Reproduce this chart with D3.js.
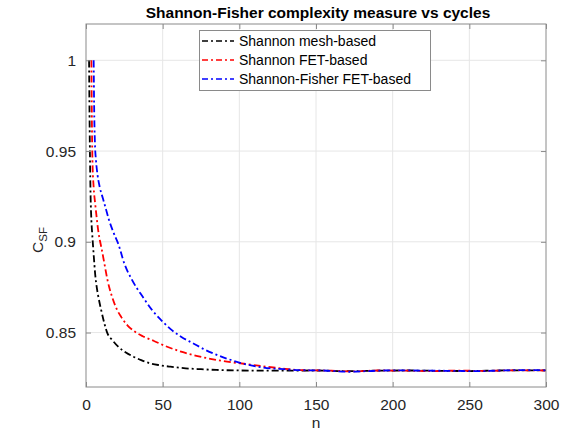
<!DOCTYPE html>
<html><head><meta charset="utf-8">
<script src="https://cdn.jsdelivr.net/npm/d3@7/dist/d3.min.js"></script>
<style>body{margin:0;background:#fff}svg{display:block}</style>
</head><body><svg id="c" width="570" height="433"></svg>
<script>
const titleText = "Shannon-Fisher complexity measure vs cycles";
const xTicks = [0, 50, 100, 150, 200, 250, 300];
const yTicks = [0.85, 0.9, 0.95, 1];
const yTickLabels = ["0.85", "0.9", "0.95", "1"];
const seriesNames = ["Shannon mesh-based", "Shannon FET-based", "Shannon-Fisher FET-based"];
const seriesColors = ["#000000", "#ff0000", "#0000ff"];

const meshN = [2, 2.3, 2.7, 3, 3.5, 4, 5, 6, 7, 8, 10, 12, 14, 17, 21, 26, 31, 36, 42, 48, 55, 65, 75, 85, 100, 115, 130, 150, 170, 190, 210, 230, 250, 270, 290, 300];
const meshV = [1.0, 0.97, 0.94, 0.925, 0.912, 0.905, 0.893, 0.882, 0.875, 0.870, 0.862, 0.855, 0.8495, 0.846, 0.8422, 0.839, 0.8367, 0.8348, 0.8330, 0.8320, 0.8312, 0.8303, 0.8298, 0.8294, 0.8291, 0.8290, 0.8290, 0.8291, 0.8287, 0.8290, 0.8291, 0.8289, 0.8288, 0.8291, 0.8292, 0.8292];

const fetN = [3.5, 3.8, 4.2, 5, 6, 7, 8, 9, 10, 12, 14, 17, 20, 23, 27, 31, 37, 44, 52, 62, 72, 82, 92, 103, 115, 130, 140, 160, 175, 190, 210, 225, 240, 260, 280, 300];
const fetV = [1.0, 0.97, 0.945, 0.93, 0.921, 0.913, 0.906, 0.901, 0.897, 0.888, 0.879, 0.8697, 0.863, 0.8585, 0.854, 0.8510, 0.8480, 0.8455, 0.8425, 0.8395, 0.8372, 0.8354, 0.8340, 0.8328, 0.8315, 0.8300, 0.8293, 0.8290, 0.8286, 0.8291, 0.8290, 0.8287, 0.8290, 0.8289, 0.8292, 0.8291];

const sfN = [5, 5.3, 5.8, 6.5, 7.5, 9, 11, 13, 15, 18, 21, 25, 30, 37, 43, 49, 55, 62, 70, 77, 85, 92, 102, 115, 129, 140, 155, 172, 190, 205, 220, 240, 255, 275, 290, 300];
const sfV = [1.0, 0.975, 0.955, 0.945, 0.937, 0.930, 0.924, 0.918, 0.912, 0.905, 0.899, 0.888, 0.879, 0.8697, 0.8625, 0.8569, 0.852, 0.8477, 0.8440, 0.8408, 0.8378, 0.8356, 0.8330, 0.8308, 0.8298, 0.8293, 0.8291, 0.8284, 0.8290, 0.8292, 0.8290, 0.8289, 0.8287, 0.8292, 0.8293, 0.8292];

const seriesN = [meshN, fetN, sfN];
const seriesV = [meshV, fetV, sfV];

const svg = d3.select("#c");
const L = 86, R = 546, T = 24, B = 387;
const x = d3.scaleLinear().domain([0, 300]).range([L, R]);
const y = d3.scaleLinear().domain([0.82, 1.02]).range([B, T]);
const font = "'Liberation Sans', Arial, Helvetica, sans-serif";
const axisCol = "#8a8a8a", textCol = "#262626";

// grid
svg.append("g").selectAll("line.gx").data(xTicks.slice(1, -1)).join("line")
  .attr("x1", d => x(d)).attr("x2", d => x(d)).attr("y1", T).attr("y2", B)
  .attr("stroke", "#e6e6e6").attr("stroke-width", 1);
svg.append("g").selectAll("line.gy").data(yTicks).join("line")
  .attr("y1", d => y(d)).attr("y2", d => y(d)).attr("x1", L).attr("x2", R)
  .attr("stroke", "#e6e6e6").attr("stroke-width", 1);

// lines
const dash = "7,3,2,3";
seriesN.forEach((ns, i) => {
  const pts = ns.map((n, k) => [n, seriesV[i][k]]);
  svg.append("path").datum(pts)
    .attr("d", d3.line().x(d => x(d[0])).y(d => y(d[1])).curve(d3.curveMonotoneX))
    .attr("fill", "none").attr("stroke", seriesColors[i])
    .attr("stroke-width", 1.8).attr("stroke-dasharray", dash);
});

// axes
const tl = 5;
const xb = d3.axisBottom(x).tickValues(xTicks).tickSizeInner(-tl).tickSizeOuter(0).tickPadding(12).tickFormat(d3.format("d"));
svg.append("g").attr("transform", `translate(0,${B})`).call(xb);
const xt = d3.axisTop(x).tickValues(xTicks).tickSizeInner(-tl).tickSizeOuter(0).tickFormat("");
svg.append("g").attr("transform", `translate(0,${T})`).call(xt);
const yl = d3.axisLeft(y).tickValues(yTicks).tickSizeInner(-tl).tickSizeOuter(0).tickPadding(10).tickFormat((d, i) => yTickLabels[i]);
svg.append("g").attr("transform", `translate(${L},0)`).call(yl);
const yr = d3.axisRight(y).tickValues(yTicks).tickSizeInner(-tl).tickSizeOuter(0).tickFormat("");
svg.append("g").attr("transform", `translate(${R},0)`).call(yr);
svg.selectAll(".domain").remove();
svg.selectAll(".tick line").attr("stroke", axisCol);
svg.selectAll(".tick text").attr("fill", textCol).style("font-family", font).style("font-size", "15.5px");
svg.append("rect").attr("x", L).attr("y", T).attr("width", R - L).attr("height", B - T)
  .attr("fill", "none").attr("stroke", axisCol).attr("stroke-width", 1);

// title
svg.append("text").attr("x", 318).attr("y", 18).attr("text-anchor", "middle")
  .style("font-family", font).style("font-size", "15.5px").style("font-weight", "bold")
  .attr("fill", "#000").text(titleText);

// x label
svg.append("text").attr("x", x(150)).attr("y", 428).attr("text-anchor", "middle")
  .style("font-family", font).style("font-size", "15.5px").attr("fill", textCol).text("n");

// y label
const ylab = svg.append("text").attr("transform", "translate(43,240) rotate(-90)")
  .attr("text-anchor", "middle").style("font-family", font).style("font-size", "15.5px").attr("fill", textCol);
ylab.append("tspan").text("C");
ylab.append("tspan").attr("dy", 4).style("font-size", "11.5px").text("SF");

// legend
const lg = svg.append("g");
lg.append("rect").attr("x", 199.5).attr("y", 30.5).attr("width", 231).attr("height", 60)
  .attr("fill", "#fff").attr("stroke", "#8a8a8a").attr("stroke-width", 1);
const rowY = [41, 60, 79];
seriesNames.forEach((nm, i) => {
  lg.append("line").attr("x1", 202).attr("x2", 234).attr("y1", rowY[i]).attr("y2", rowY[i])
    .attr("stroke", seriesColors[i]).attr("stroke-width", 1.6).attr("stroke-dasharray", "6,3,2,3");
  lg.append("text").attr("x", 239).attr("y", rowY[i] + 5).style("font-family", font)
    .style("font-size", "14px").attr("fill", "#000").text(nm);
});
</script></body></html>
